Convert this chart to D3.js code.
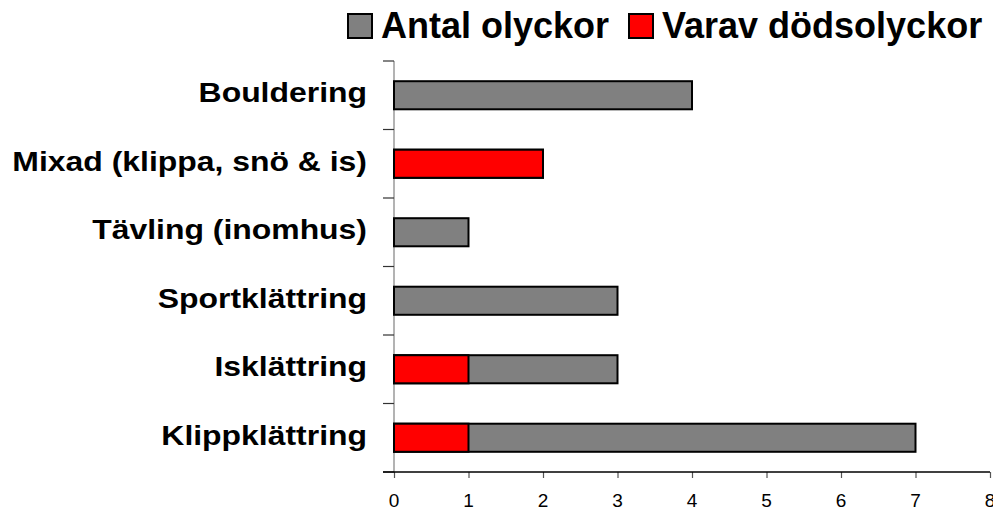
<!DOCTYPE html>
<html><head><meta charset="utf-8">
<script src="https://cdn.jsdelivr.net/npm/d3@7"></script>
<style>body{margin:0;background:#fff}svg{display:block}text{font-family:"Liberation Sans",Arial,sans-serif}</style>
</head><body>
<svg id="c" width="993" height="510"></svg>
<script>
const categories = ["Klippklättring","Isklättring","Sportklättring","Tävling (inomhus)","Mixad (klippa, snö & is)","Bouldering"];
const totalAccidents = [7,3,3,1,2,4];
const fatalAccidents = [1,1,0,0,2,0];
const xTicks = [0,1,2,3,4,5,6,7,8];
const seriesNames = ["Antal olyckor","Varav dödsolyckor"];
const seriesColors = ["#808080","#ff0000"];

const svg = d3.select("#c");
const x = d3.scaleLinear().domain([0,8]).range([394,990]);
const y = d3.scaleBand().domain(categories.slice().reverse()).range([61,472]).paddingInner(0.59).paddingOuter(0.295);
const step = y.step();

// y axis line
svg.append("line").attr("x1",394).attr("x2",394).attr("y1",61).attr("y2",472).attr("stroke","#808080").attr("stroke-width",1.2);
d3.range(categories.length+1).forEach(i=>{
  const yy = 61 + i*step;
  svg.append("line").attr("x1",383).attr("x2",394).attr("y1",yy).attr("y2",yy).attr("stroke","#333").attr("stroke-width",1.2);
});
// x axis
const xa = svg.append("g").attr("transform","translate(0,472)")
  .call(d3.axisBottom(x).tickValues(xTicks).tickFormat("").tickSize(6).tickSizeOuter(0));
xa.select(".domain").remove();
xa.selectAll(".tick line").attr("stroke","#555").attr("stroke-width",1.2);
svg.append("line").attr("x1",383).attr("x2",990).attr("y1",472).attr("y2",472).attr("stroke","#000").attr("stroke-width",1.5);
svg.selectAll("text.xt").data(xTicks).join("text").attr("class","xt")
  .attr("x",d=>x(d)).attr("y",507).attr("text-anchor","middle")
  .style("font-size","19px").style("font-weight","normal").attr("fill","#000").text(d=>d);

// category labels
svg.selectAll("g.cat").data(categories).join("g").attr("class","cat")
  .attr("transform",d=>`translate(367,${y(d)+y.bandwidth()/2+7}) scale(1.14,1)`)
  .append("text").attr("text-anchor","end")
  .style("font-size","28px").style("font-weight","bold").attr("fill","#000").text(d=>d);

// bars
const rows = categories.map((c,i)=>({c,t:totalAccidents[i],f:fatalAccidents[i]}));
svg.selectAll("rect.tot").data(rows).join("rect").attr("class","tot")
  .attr("x",x(0)).attr("y",d=>y(d.c)).attr("width",d=>x(d.t)-x(0)).attr("height",y.bandwidth())
  .attr("fill",seriesColors[0]).attr("stroke","#000").attr("stroke-width",2);
svg.selectAll("rect.fat").data(rows.filter(d=>d.f>0)).join("rect").attr("class","fat")
  .attr("x",x(0)).attr("y",d=>y(d.c)).attr("width",d=>x(d.f)-x(0)).attr("height",y.bandwidth())
  .attr("fill",seriesColors[1]).attr("stroke","#000").attr("stroke-width",2);

// legend
const legendX = [348, 629];
seriesNames.forEach((n,i)=>{
  svg.append("rect").attr("x",legendX[i]).attr("y",14).attr("width",24).attr("height",24)
    .attr("fill",seriesColors[i]).attr("stroke","#000").attr("stroke-width",2);
  svg.append("text").attr("x",legendX[i]+33).attr("y",38).style("font-size","36px").style("font-weight","bold").attr("fill","#000").text(n);
});
</script>
</body></html>
